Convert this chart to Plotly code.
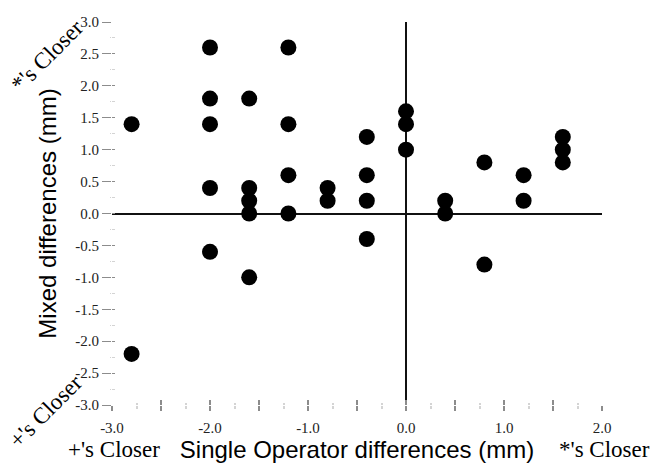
import plotly.graph_objects as go

# Data: (Single Operator difference, Mixed difference) in mm
single_operator = [-2.8, -2.8,
                   -2.0, -2.0, -2.0, -2.0, -2.0,
                   -1.6, -1.6, -1.6, -1.6, -1.6,
                   -1.2, -1.2, -1.2, -1.2,
                   -0.8, -0.8,
                   -0.4, -0.4, -0.4, -0.4,
                   0.0, 0.0, 0.0,
                   0.4, 0.4,
                   0.8, 0.8,
                   1.2, 1.2,
                   1.6, 1.6, 1.6]
mixed = [1.4, -2.2,
         2.6, 1.8, 1.4, 0.4, -0.6,
         1.8, 0.4, 0.2, 0.0, -1.0,
         2.6, 1.4, 0.6, 0.0,
         0.4, 0.2,
         1.2, 0.6, 0.2, -0.4,
         1.6, 1.4, 1.0,
         0.2, 0.0,
         0.8, -0.8,
         0.6, 0.2,
         1.2, 1.0, 0.8]

x_tickvals = [-3.0, -2.5, -2.0, -1.5, -1.0, -0.5, 0.0, 0.5, 1.0, 1.5, 2.0]
x_ticktext = ["-3.0", "", "-2.0", "", "-1.0", "", "0.0", "", "1.0", "", "2.0"]
y_tickvals = [-3.0, -2.5, -2.0, -1.5, -1.0, -0.5, 0.0, 0.5, 1.0, 1.5, 2.0, 2.5, 3.0]
y_ticktext = ["-3.0", "-2.5", "-2.0", "-1.5", "-1.0", "-0.5", "0.0",
              "0.5", "1.0", "1.5", "2.0", "2.5", "3.0"]

x_title = "Single Operator differences (mm)"
y_title = "Mixed differences (mm)"
star_label = "*'s Closer"
plus_label = "+'s Closer"

X_RANGE = [-3.0, 2.0]
Y_RANGE = [-3.0, 3.0]

SERIF = "Liberation Serif, Times New Roman, serif"
SANS = "Liberation Sans, Arial, Helvetica, sans-serif"
MAJOR = "#8c8c8c"
MINOR = "#d4d4d4"

fig = go.Figure()
fig.add_trace(go.Scatter(
    x=single_operator, y=mixed, mode="markers",
    marker=dict(size=16, color="black", line=dict(width=0)),
    showlegend=False, hoverinfo="x+y", cliponaxis=False,
))
# empty trace that keeps the overlay axes (inner half of the cross ticks) alive
fig.add_trace(go.Scatter(x=[None], y=[None], xaxis="x2", yaxis="y2",
                         mode="markers", showlegend=False, hoverinfo="skip"))

fig.update_layout(
    width=651, height=464,
    margin=dict(l=112, r=49, t=22, b=59),
    paper_bgcolor="white", plot_bgcolor="white",
    showlegend=False,
    xaxis=dict(
        range=X_RANGE, showgrid=False, showline=False,
        zeroline=True, zerolinecolor="#111111", zerolinewidth=2,
        tickmode="array", tickvals=x_tickvals, ticktext=x_ticktext,
        ticks="outside", ticklen=5, tickwidth=1.5, tickcolor=MAJOR,
        minor=dict(dtick=0.25, tick0=0, ticks="outside", ticklen=3,
                   tickwidth=1.5, tickcolor=MINOR, showgrid=False),
        tickfont=dict(family=SERIF, size=15, color="#222222"),
        ticklabelstandoff=4,
        title=dict(text=x_title, font=dict(family=SANS, size=24, color="black"),
                   standoff=4),
        automargin=False,
    ),
    yaxis=dict(
        range=Y_RANGE, showgrid=False, showline=False,
        zeroline=True, zerolinecolor="#111111", zerolinewidth=2,
        tickmode="array", tickvals=y_tickvals, ticktext=y_ticktext,
        ticks="outside", ticklen=9, tickwidth=1, tickcolor=MAJOR,
        minor=dict(dtick=0.25, tick0=0, ticks="outside", ticklen=1,
                   tickwidth=1, tickcolor=MINOR, showgrid=False),
        tickfont=dict(family=SERIF, size=15, color="#222222"),
        title=dict(text=y_title, font=dict(family=SANS, size=24, color="black"),
                   standoff=11),
        automargin=False,
    ),
    xaxis2=dict(
        range=X_RANGE, overlaying="x", anchor="y2", side="bottom",
        showgrid=False, showline=False, zeroline=False,
        tickmode="array", tickvals=x_tickvals, showticklabels=False,
        ticks="inside", ticklen=5, tickwidth=1.5, tickcolor=MAJOR,
        minor=dict(dtick=0.25, tick0=0, ticks="inside", ticklen=2,
                   tickwidth=1.5, tickcolor=MINOR, showgrid=False),
        automargin=False,
    ),
    yaxis2=dict(
        range=Y_RANGE, overlaying="y", anchor="x2", side="left",
        showgrid=False, showline=False, zeroline=False,
        tickmode="array", tickvals=y_tickvals, showticklabels=False,
        ticks="inside", ticklen=3, tickwidth=1, tickcolor=MAJOR,
        minor=dict(dtick=0.25, tick0=0, ticks="inside", ticklen=3,
                   tickwidth=1, tickcolor=MINOR, showgrid=False),
        automargin=False,
    ),
)

corner_font = dict(family=SERIF, size=23, color="black")
fig.add_annotation(text=star_label, xref="paper", yref="paper",
                   x=-0.131, y=0.912, textangle=-45, showarrow=False,
                   xanchor="center", yanchor="middle", font=corner_font)
fig.add_annotation(text=plus_label, xref="paper", yref="paper",
                   x=-0.135, y=-0.018, textangle=-45, showarrow=False,
                   xanchor="center", yanchor="middle", font=corner_font)
fig.add_annotation(text=plus_label, xref="paper", yref="paper",
                   x=0.005, y=-0.152, showarrow=False, borderpad=0,
                   xanchor="center", yanchor="bottom", font=corner_font)
fig.add_annotation(text=star_label, xref="paper", yref="paper",
                   x=1.006, y=-0.115, showarrow=False,
                   xanchor="center", yanchor="middle", font=corner_font)

fig.write_html("out.html",
               config={"displayModeBar": False},
               post_script="document.body.style.margin='0';"
                           "document.body.style.overflow='hidden';")
